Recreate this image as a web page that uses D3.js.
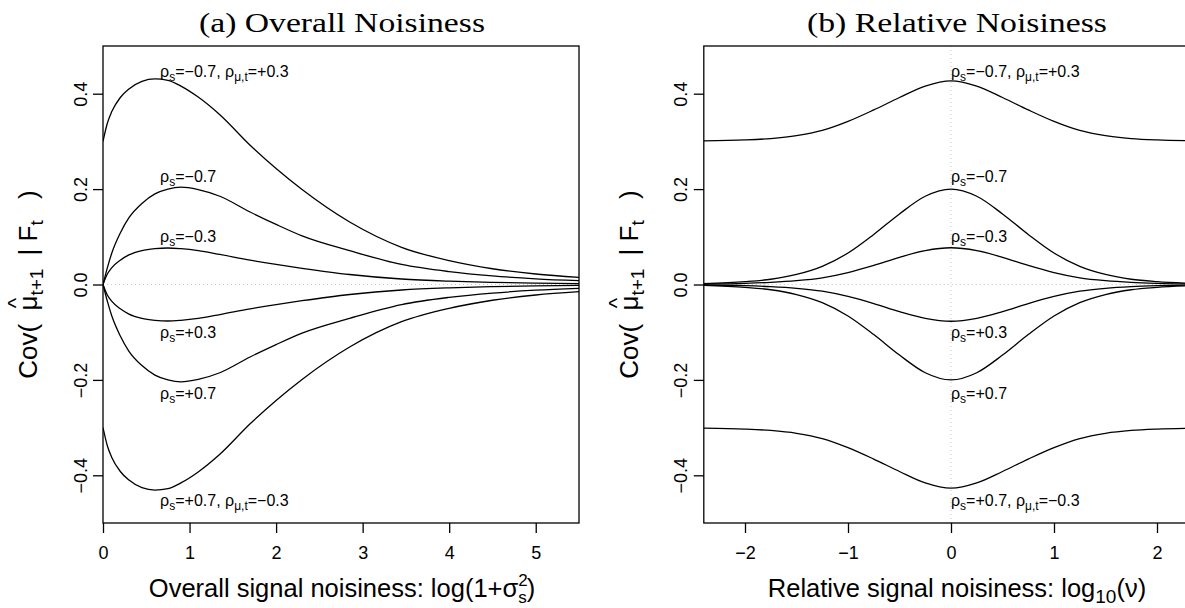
<!DOCTYPE html>
<html><head><meta charset="utf-8">
<script src="https://cdn.jsdelivr.net/npm/d3@7"></script>
<style>body{margin:0;background:#fff}svg{display:block}</style>
</head><body>
<svg id="c" width="1185" height="608"></svg>
<script>
// ---------- data ----------
// Panel (a): x = log(1+sigma_s^2)
const xA = [0, 0.05, 0.1, 0.2, 0.3, 0.45, 0.6, 0.75, 0.9, 1.1, 1.35, 1.7, 2.0, 2.3, 2.85, 3.45, 4.0, 4.5, 5.0, 5.5];
const aNeg07Pos03 = [0.300, 0.338, 0.362, 0.392, 0.410, 0.426, 0.431, 0.428, 0.416, 0.393, 0.356, 0.292, 0.243, 0.199, 0.131, 0.078, 0.050, 0.033, 0.022, 0.015];
const aNeg07 = [0, 0.035, 0.065, 0.108, 0.140, 0.170, 0.190, 0.200, 0.204, 0.199, 0.185, 0.152, 0.126, 0.102, 0.071, 0.042, 0.027, 0.018, 0.012, 0.008];
const aNeg03 = [0, 0.022, 0.035, 0.051, 0.062, 0.071, 0.075, 0.0765, 0.075, 0.071, 0.063, 0.051, 0.042, 0.034, 0.021, 0.0115, 0.007, 0.0045, 0.003, 0.002];
const aPos03 = [0, -0.022, -0.035, -0.051, -0.062, -0.071, -0.075, -0.0765, -0.075, -0.071, -0.063, -0.051, -0.042, -0.034, -0.021, -0.0115, -0.007, -0.0045, -0.003, -0.002];
const aPos07 = [0, -0.035, -0.065, -0.108, -0.140, -0.170, -0.190, -0.200, -0.204, -0.199, -0.185, -0.152, -0.126, -0.102, -0.071, -0.042, -0.027, -0.018, -0.012, -0.008];
const aPos07Neg03 = [-0.300, -0.338, -0.362, -0.392, -0.410, -0.426, -0.431, -0.428, -0.416, -0.393, -0.356, -0.292, -0.243, -0.199, -0.131, -0.078, -0.050, -0.033, -0.022, -0.015];

// Panel (b): x = log10(nu)
const xB = [-2.4, -2.0, -1.75, -1.5, -1.25, -1.0, -0.75, -0.5, -0.25, 0, 0.25, 0.5, 0.75, 1.0, 1.25, 1.5, 1.75, 2.0, 2.4];
const bNeg07Pos03 = [0.301, 0.303, 0.306, 0.312, 0.323, 0.342, 0.366, 0.392, 0.416, 0.427, 0.416, 0.392, 0.366, 0.342, 0.323, 0.312, 0.306, 0.303, 0.301];
const bNeg07 = [0.002, 0.006, 0.011, 0.021, 0.038, 0.066, 0.105, 0.148, 0.185, 0.200, 0.185, 0.148, 0.105, 0.066, 0.038, 0.021, 0.011, 0.006, 0.002];
const bNeg03 = [0.001, 0.0025, 0.0045, 0.008, 0.014, 0.025, 0.040, 0.057, 0.071, 0.077, 0.071, 0.057, 0.040, 0.025, 0.014, 0.008, 0.0045, 0.0025, 0.001];
const bPos03 = [-0.001, -0.0025, -0.0045, -0.008, -0.014, -0.025, -0.040, -0.057, -0.071, -0.077, -0.071, -0.057, -0.040, -0.025, -0.014, -0.008, -0.0045, -0.0025, -0.001];
const bPos07 = [-0.002, -0.006, -0.011, -0.021, -0.038, -0.066, -0.105, -0.148, -0.185, -0.200, -0.185, -0.148, -0.105, -0.066, -0.038, -0.021, -0.011, -0.006, -0.002];
const bPos07Neg03 = [-0.301, -0.303, -0.306, -0.312, -0.323, -0.342, -0.366, -0.392, -0.416, -0.427, -0.416, -0.392, -0.366, -0.342, -0.323, -0.312, -0.306, -0.303, -0.301];

// tick values
const yTicks = [-0.4, -0.2, 0, 0.2, 0.4];
const xTicksA = [0, 1, 2, 3, 4, 5];
const xTicksB = [-2, -1, 0, 1, 2];

// curve labels: parts are [string, isSubscript]
const labelTexts = [
  [["ρ",0],["s",1],["=−0.7, ρ",0],["μ,t",1],["=+0.3",0]],
  [["ρ",0],["s",1],["=−0.7",0]],
  [["ρ",0],["s",1],["=−0.3",0]],
  [["ρ",0],["s",1],["=+0.3",0]],
  [["ρ",0],["s",1],["=+0.7",0]],
  [["ρ",0],["s",1],["=+0.7, ρ",0],["μ,t",1],["=−0.3",0]]
];
const labelLevels = [0.434, 0.214, 0.090, -0.113, -0.239, -0.465];

// ---------- drawing ----------
const svg = d3.select("#c");
const SANS = "'Liberation Sans', Arial, Helvetica, sans-serif";
const SERIF = "'Liberation Serif', 'Times New Roman', serif";
const plotTop = 46, plotBottom = 523;

function richText(sel, parts, size, subSize, subDy) {
  let shifted = false;
  parts.forEach(([t, sub]) => {
    const ts = sel.append("tspan").text(t);
    if (sub && !shifted) { ts.attr("font-size", subSize).attr("dy", subDy); shifted = true; }
    else if (!sub && shifted) { ts.attr("font-size", size).attr("dy", -subDy); shifted = false; }
    else ts.attr("font-size", sub ? subSize : size);
  });
}

function drawPanel(cfg) {
  const x = d3.scaleLinear().domain(cfg.xDomain).range(cfg.xRange);
  const y = d3.scaleLinear().domain([-0.5, 0.5]).range([plotBottom, plotTop]);
  const left = cfg.xRange[0], right = cfg.xRange[1];
  const g = svg.append("g");
  const clipId = "clip" + cfg.id;
  svg.append("clipPath").attr("id", clipId).append("rect")
    .attr("x", left).attr("y", plotTop).attr("width", right - left).attr("height", plotBottom - plotTop);
  const inner = g.append("g").attr("clip-path", `url(#${clipId})`);

  inner.append("line").attr("x1", left).attr("x2", right).attr("y1", y(0)).attr("y2", y(0))
    .attr("stroke", "#c8c8c8").attr("stroke-dasharray", "1,3").attr("stroke-width", 1);
  if (cfg.vline) {
    inner.append("line").attr("x1", x(0)).attr("x2", x(0)).attr("y1", plotTop).attr("y2", plotBottom)
      .attr("stroke", "#c8c8c8").attr("stroke-dasharray", "1,3").attr("stroke-width", 1);
  }

  const line = d3.line().x(d => x(d[0])).y(d => y(d[1])).curve(d3.curveMonotoneX);
  cfg.series.forEach(s => {
    inner.append("path").attr("d", line(d3.zip(cfg.xs, s)))
      .attr("fill", "none").attr("stroke", "#000").attr("stroke-width", 1.3);
  });

  labelTexts.forEach((parts, i) => {
    const t = inner.append("text").attr("x", x(cfg.labelX)).attr("y", y(labelLevels[i]))
      .attr("font-family", SANS).attr("font-size", 16).attr("fill", "#000");
    richText(t, parts, 16, 12, 4);
  });

  g.append("rect").attr("x", left).attr("y", plotTop).attr("width", right - left).attr("height", plotBottom - plotTop)
    .attr("fill", "none").attr("stroke", "#000").attr("stroke-width", 1.3);

  const xa = g.append("g").attr("transform", `translate(0,${plotBottom})`)
    .call(d3.axisBottom(x).tickValues(cfg.xTicks).tickSize(10).tickFormat(d3.format("d")));
  xa.select(".domain").remove();
  xa.selectAll(".tick line").attr("stroke", "#000").attr("stroke-width", 1.3);
  xa.selectAll(".tick text").attr("font-family", SANS).attr("font-size", 18).attr("fill", "#000")
    .attr("y", 35.5).attr("dy", 0);

  const ya = g.append("g").attr("transform", `translate(${left},0)`)
    .call(d3.axisLeft(y).tickValues(yTicks).tickSize(10).tickFormat(d3.format(".1f")));
  ya.select(".domain").remove();
  ya.selectAll(".tick line").attr("stroke", "#000").attr("stroke-width", 1.3);
  ya.selectAll(".tick text").attr("font-family", SANS).attr("font-size", 18).attr("fill", "#000")
    .attr("text-anchor", "middle").attr("transform", "rotate(-90)")
    .attr("x", 0).attr("y", -16.5).attr("dy", 0);

  svg.append("text").attr("x", cfg.titleX).attr("y", 32).attr("text-anchor", "middle")
    .attr("font-family", SERIF).attr("font-size", 27).attr("fill", "#000")
    .attr("textLength", cfg.titleW).attr("lengthAdjust", "spacingAndGlyphs")
    .text(cfg.title);

  const cy = (plotTop + plotBottom) / 2;
  const yg = svg.append("g").attr("transform", `translate(${left - 66},${cy}) rotate(-90)`);
  const yt = yg.append("text").attr("text-anchor", "middle").attr("font-family", SANS)
    .attr("font-size", 26).attr("fill", "#000");
  yt.append("tspan").text("Cov( ");
  yt.append("tspan").attr("dx", 6).text("μ");
  yt.append("tspan").attr("font-size", 19).attr("dy", 6).text("t+1");
  yt.append("tspan").attr("dy", -6).attr("dx", 6).text(" | F");
  yt.append("tspan").attr("font-size", 19).attr("dy", 6).text("t");
  yt.append("tspan").attr("dy", -6).attr("dx", 14).text(" )");
  try {
    const mu = yt.node().getExtentOfChar(5);
    yg.append("text").attr("x", mu.x + mu.width / 2).attr("y", -14).attr("text-anchor", "middle")
      .attr("font-family", SANS).attr("font-size", 22).attr("fill", "#000").text("^");
  } catch (e) {}

  const xt = svg.append("text").attr("x", cfg.titleX).attr("y", 597).attr("text-anchor", "middle")
    .attr("font-family", SANS).attr("font-size", 25.5).attr("fill", "#000");
  cfg.xTitle(xt);
}

drawPanel({
  id: "a", xDomain: [0, 5.5], xRange: [103, 579], xs: xA,
  series: [aNeg07Pos03, aNeg07, aNeg03, aPos03, aPos07, aPos07Neg03],
  xTicks: xTicksA, labelX: 0.66, vline: false,
  title: "(a) Overall Noisiness", titleX: 342, titleW: 286,
  xTitle: t => {
    t.append("tspan").text("Overall signal noisiness: log(1+σ");
    t.append("tspan").attr("font-size", 17).attr("dy", -11).text("2");
    t.append("tspan").attr("font-size", 17).attr("dx", -9.5).attr("dy", 17).text("s");
    t.append("tspan").attr("dy", -6).text(")");
  }
});

drawPanel({
  id: "b", xDomain: [-2.4, 2.4], xRange: [703.8, 1198.2], xs: xB,
  series: [bNeg07Pos03, bNeg07, bNeg03, bPos03, bPos07, bPos07Neg03],
  xTicks: xTicksB, labelX: 0, vline: true,
  title: "(b) Relative Noisiness", titleX: 957, titleW: 300,
  xTitle: t => {
    t.append("tspan").text("Relative signal noisiness: log");
    t.append("tspan").attr("font-size", 19).attr("dy", 6).text("10");
    t.append("tspan").attr("dy", -6).text("(ν)");
  }
});
</script>
</body></html>
